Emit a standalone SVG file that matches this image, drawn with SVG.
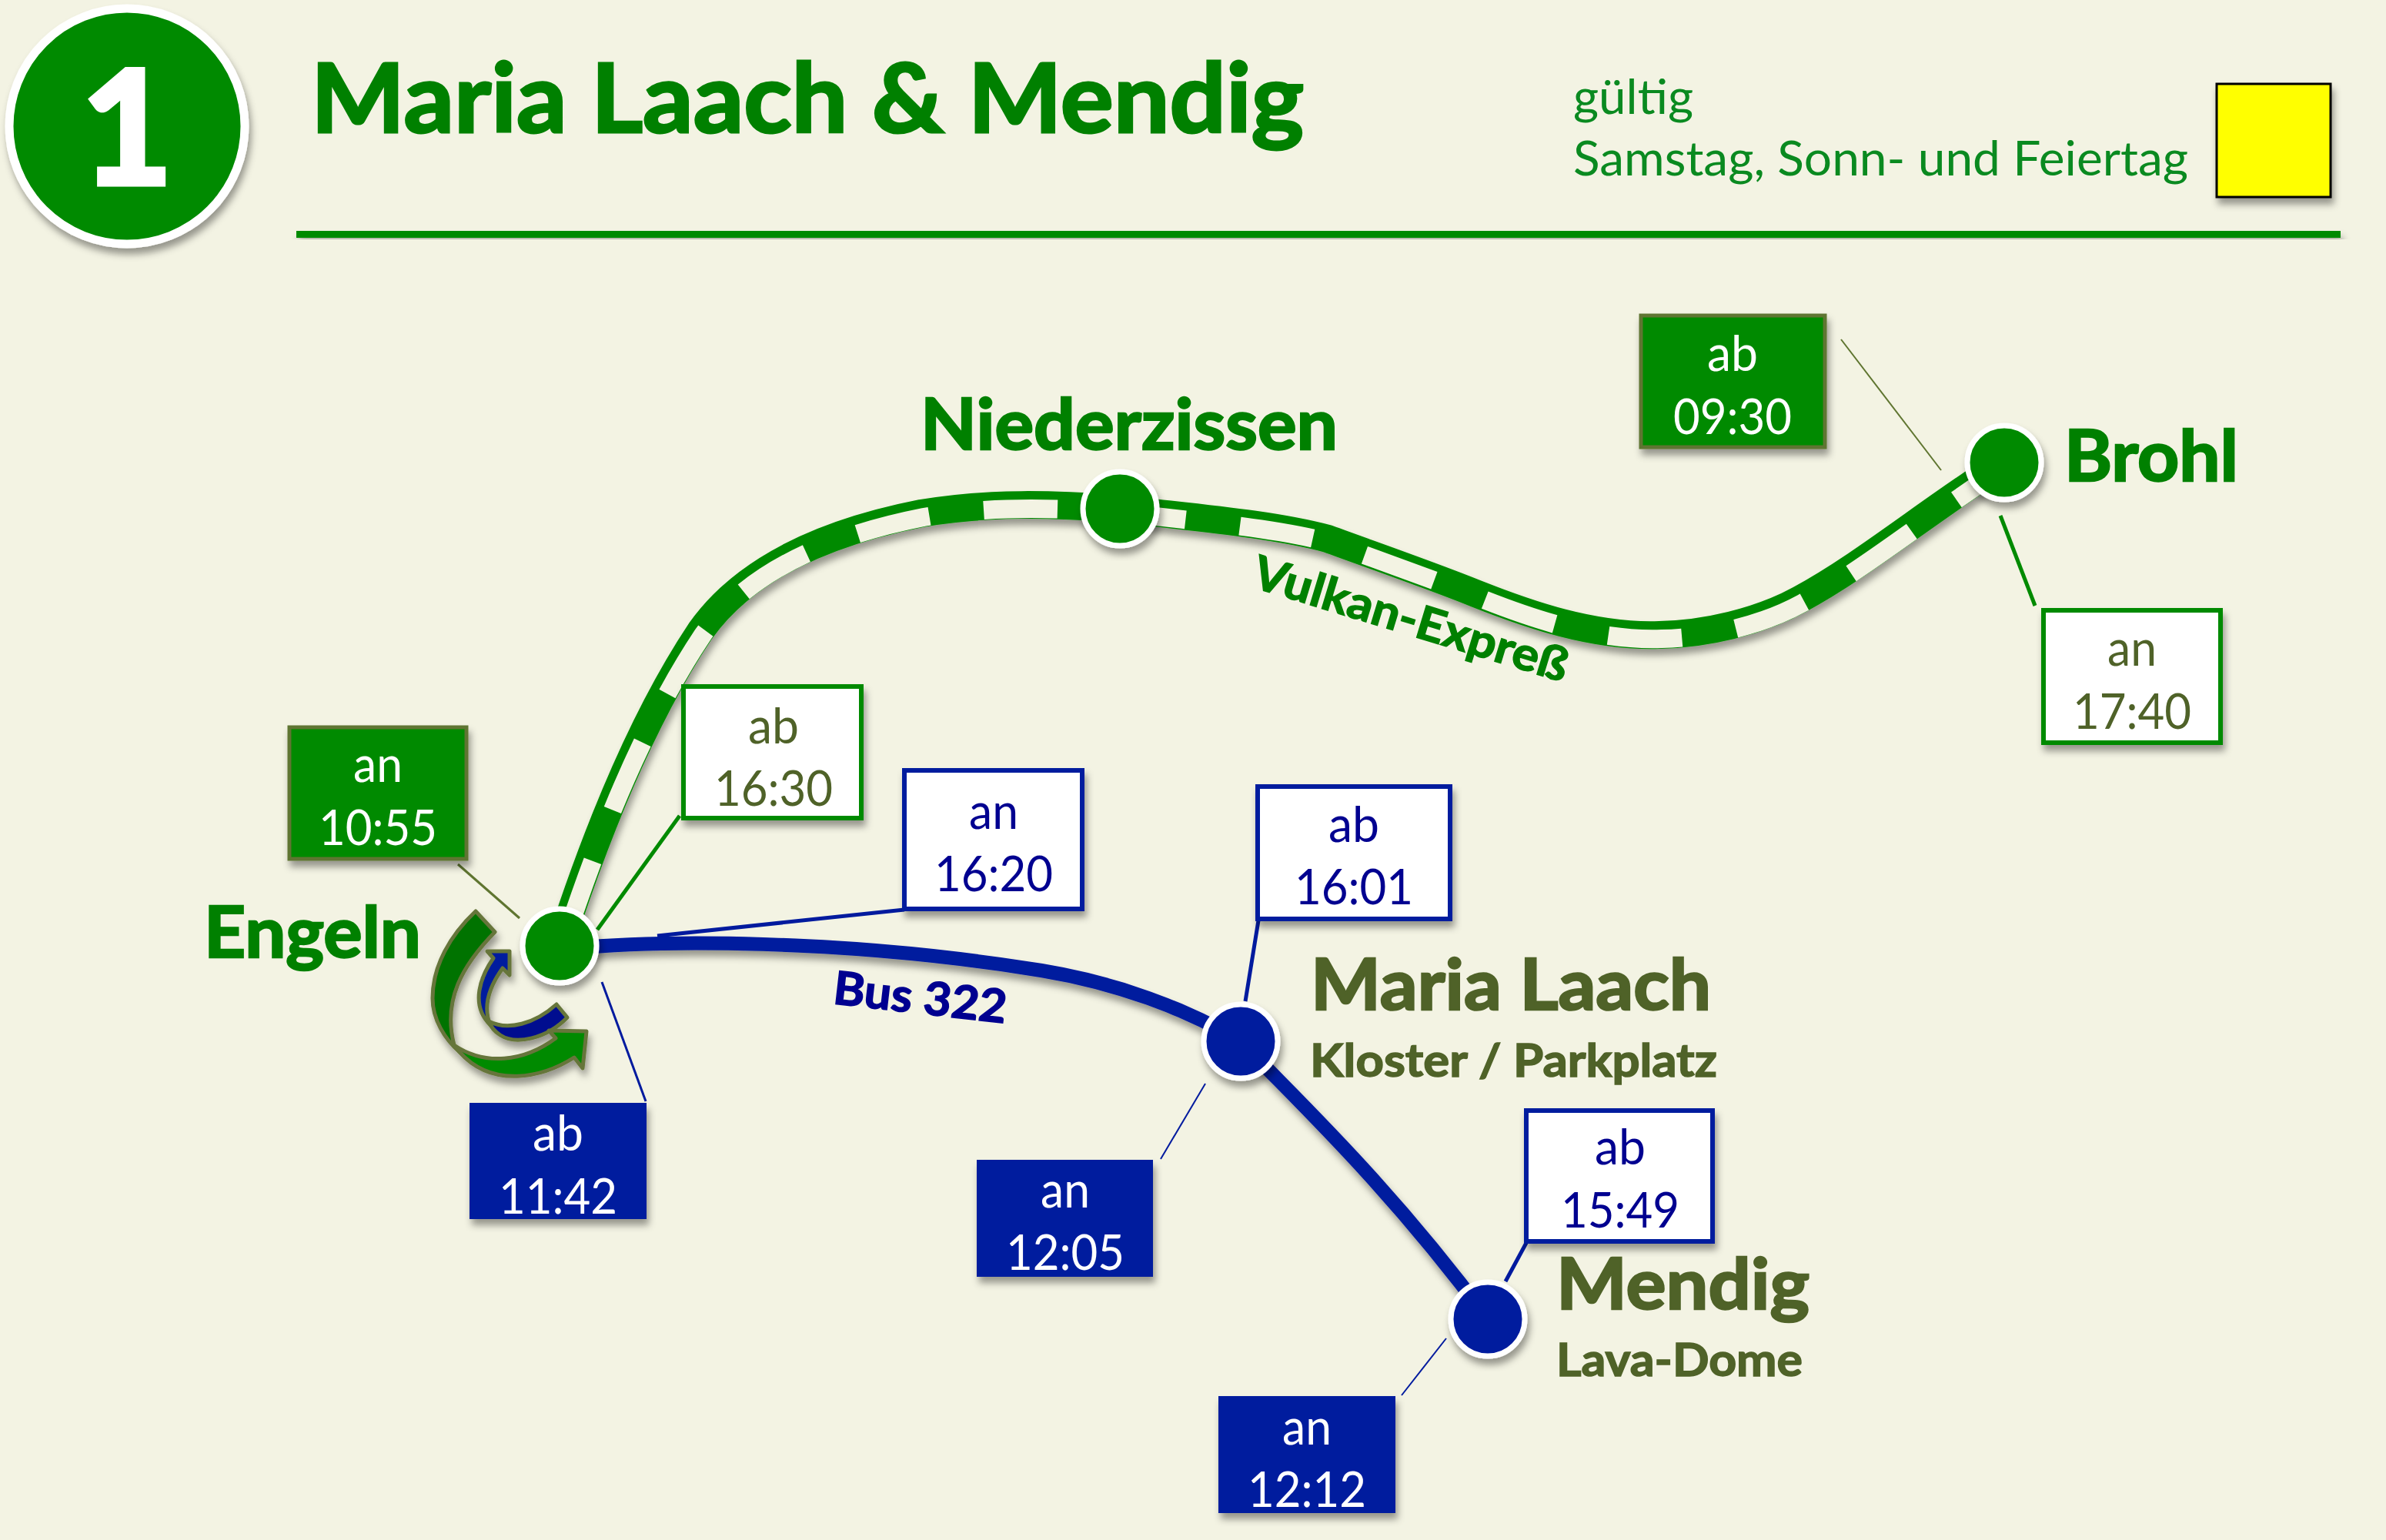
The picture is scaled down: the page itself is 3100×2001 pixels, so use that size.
<svg xmlns="http://www.w3.org/2000/svg" width="3100" height="2001" viewBox="0 0 3100 2001">
<style>
text{font-family:Lato,"Open Sans","Liberation Sans",sans-serif}
.g{fill:#008a00}.b{fill:#001a9e}
.sh{filter:url(#ds)}
.st{font-weight:700;font-size:92px;stroke-width:2.5}
.sub{font-weight:700;font-size:59px;fill:#4f6228;stroke:#4f6228;stroke-width:1.5}
.sg{fill:#008000;stroke:#008000}
.ol{fill:#4f6228}
.so{fill:#4f6228;stroke:#4f6228}
.t{font-size:64px;text-anchor:middle}
.w{fill:#fff}.db{fill:#000090}
.gf{fill:#008a00;stroke:#5f7530;stroke-width:5}
.bf{fill:#001a9e;stroke:#001a9e;stroke-width:2}
.gw{fill:#fff;stroke:#008a00;stroke-width:6}
.bw{fill:#fff;stroke:#001a9e;stroke-width:6}
.node{stroke:#fff;stroke-width:7}
.sw{stroke:#66753a;stroke-width:5;stroke-linejoin:round}
</style>
<defs>
<filter id="ds" x="-20%" y="-20%" width="140%" height="140%"><feDropShadow dx="3" dy="8" stdDeviation="5" flood-color="#000" flood-opacity="0.38"/></filter>
</defs>
<rect width="3100" height="2001" fill="#f3f3e3"/>

<g id="header">
<circle class="g sh" cx="165" cy="164" r="153" stroke="#fff" stroke-width="11"/>
<text x="165" y="239" font-size="205" font-weight="700" fill="#fff" stroke="#fff" stroke-width="7" text-anchor="middle">1</text>
<text x="404" y="172" font-size="124" font-weight="700" fill="#008000" stroke="#008000" stroke-width="3" textLength="1290" lengthAdjust="spacingAndGlyphs">Maria Laach &amp; Mendig</text>
<rect class="g sh" x="385" y="300" width="2656" height="9"/>
<text x="2044" y="148" font-size="62" fill="#0a8a20" textLength="156" lengthAdjust="spacingAndGlyphs">gültig</text>
<text x="2044" y="228" font-size="62" fill="#0a8a20" textLength="799" lengthAdjust="spacingAndGlyphs">Samstag, Sonn- und Feiertag</text>
<rect class="sh" x="2880" y="109" width="148" height="147" fill="#ffff00" stroke="#000" stroke-width="3"/>
</g>

<g id="connectors" fill="none">
<g class="sh">
<path id="rail" d="M727 1229C780 1065 840 925 910 820C970 735 1080 690 1197 667C1285 652 1370 655 1455 661C1545 672 1650 680 1725 700C1785 722 1860 748 1917 771C1985 798 2070 828 2156 825C2215 824 2285 808 2338 779C2420 735 2510 660 2604 601" stroke="#008a00" stroke-width="36"/>
</g>
<path transform="translate(3,5)" d="M727 1229C780 1065 840 925 910 820C970 735 1080 690 1197 667C1285 652 1370 655 1455 661C1545 672 1650 680 1725 700C1785 722 1860 748 1917 771C1985 798 2070 828 2156 825C2215 824 2285 808 2338 779C2420 735 2510 660 2604 601" stroke="#f3f3e3" stroke-width="24" stroke-dasharray="96 71" stroke-dashoffset="-26"/>
<path class="sh" id="bus" d="M727 1234C850 1220 1100 1220 1353 1261C1450 1277 1540 1310 1612 1353C1680 1425 1800 1535 1933 1714" stroke="#001a9e" stroke-width="18"/>
<g stroke-linecap="butt">
<line x1="595" y1="1123" x2="675" y2="1193" stroke="#5f7530" stroke-width="3"/>
<line x1="782" y1="1276" x2="839" y2="1431" stroke="#001a9e" stroke-width="3"/>
<line x1="883" y1="1060" x2="776" y2="1208" stroke="#008a00" stroke-width="5"/>
<line x1="854" y1="1216" x2="1175" y2="1182" stroke="#001a9e" stroke-width="5"/>
<line x1="2392" y1="441" x2="2522" y2="611" stroke="#5f7530" stroke-width="2"/>
<line x1="2599" y1="670" x2="2644" y2="787" stroke="#008a00" stroke-width="5"/>
<line x1="1635" y1="1196" x2="1618" y2="1301" stroke="#001a9e" stroke-width="5"/>
<line x1="1508" y1="1506" x2="1566" y2="1408" stroke="#001a9e" stroke-width="2"/>
<line x1="1983" y1="1615" x2="1956" y2="1665" stroke="#001a9e" stroke-width="5"/>
<line x1="1821" y1="1813" x2="1879" y2="1739" stroke="#001a9e" stroke-width="2"/>
</g>
</g>

<g id="turnaround" class="sh">
<path class="sw" fill="#007300" d="M618 1184L643 1211C600 1255 575 1300 590 1358L597 1367C578 1350 562 1325 562 1297C562 1255 585 1215 618 1184Z"/>
<path class="sw" fill="#000f8f" d="M635 1327C660 1340 695 1330 723 1305L737 1322C710 1350 670 1358 650 1345C642 1340 638 1335 635 1327Z"/>
<path class="sw" fill="#001a9e" d="M662 1236L633 1236L641 1245C625 1268 610 1305 637 1332C630 1315 630 1290 653 1258L662 1267Z"/>
<path class="sw" fill="#008a00" d="M590 1358C630 1385 680 1380 722 1349L713 1339L762 1340L757 1388L746 1374C705 1400 640 1415 597 1367Z"/>
</g>

<g id="node-engeln">
<circle class="g node sh" cx="727" cy="1229" r="48"/>
<text class="st sg" x="265" y="1244" textLength="282" lengthAdjust="spacingAndGlyphs">Engeln</text>
</g>
<g id="node-niederzissen">
<circle class="g node sh" cx="1455" cy="661" r="48"/>
<text class="st sg" x="1196" y="584" textLength="542" lengthAdjust="spacingAndGlyphs">Niederzissen</text>
</g>
<g id="node-brohl">
<circle class="g node sh" cx="2604" cy="601" r="48"/>
<text class="st sg" x="2682" y="625" textLength="226" lengthAdjust="spacingAndGlyphs">Brohl</text>
</g>
<g id="node-maria-laach">
<circle class="b node sh" cx="1612" cy="1353" r="48"/>
<text class="st so" x="1703" y="1312" textLength="520" lengthAdjust="spacingAndGlyphs">Maria Laach</text>
<text class="sub" x="1702" y="1399" textLength="529" lengthAdjust="spacingAndGlyphs">Kloster / Parkplatz</text>
</g>
<g id="node-mendig">
<circle class="b node sh" cx="1933" cy="1714" r="48"/>
<text class="st so" x="2022" y="1701" textLength="329" lengthAdjust="spacingAndGlyphs">Mendig</text>
<text class="sub" x="2022" y="1788" textLength="320" lengthAdjust="spacingAndGlyphs">Lava-Dome</text>
</g>

<text id="label-vulkan" transform="translate(1624,762) rotate(17)" font-size="60" font-weight="700" fill="#008000" stroke="#008000" stroke-width="1.5" textLength="425" lengthAdjust="spacingAndGlyphs">Vulkan-Expreß</text>
<text id="label-bus" transform="translate(1081,1304) rotate(6.5)" font-size="60" font-weight="700" fill="#000090" stroke="#000090" stroke-width="1.5" textLength="226" lengthAdjust="spacingAndGlyphs">Bus 322</text>

<g id="box-engeln-an"><rect class="gf sh" x="376" y="945" width="230" height="171"/><text class="t w" x="491" y="1016" textLength="64" lengthAdjust="spacingAndGlyphs">an</text><text class="t w" x="491" y="1098" textLength="154" lengthAdjust="spacingAndGlyphs">10:55</text></g>
<g id="box-engeln-ab"><rect class="bf sh" x="611" y="1434" width="228" height="149"/><text class="t w" x="725" y="1495" textLength="66" lengthAdjust="spacingAndGlyphs">ab</text><text class="t w" x="725" y="1577" textLength="154" lengthAdjust="spacingAndGlyphs">11:42</text></g>
<g id="box-niederzissen-ab"><rect class="gw sh" x="888" y="892" width="231" height="171"/><text class="t ol" x="1005" y="966" textLength="66" lengthAdjust="spacingAndGlyphs">ab</text><text class="t ol" x="1005" y="1047" textLength="154" lengthAdjust="spacingAndGlyphs">16:30</text></g>
<g id="box-bus-an"><rect class="bw sh" x="1175" y="1001" width="231" height="180"/><text class="t db" x="1291" y="1077" textLength="64" lengthAdjust="spacingAndGlyphs">an</text><text class="t db" x="1291" y="1158" textLength="154" lengthAdjust="spacingAndGlyphs">16:20</text></g>
<g id="box-brohl-ab"><rect class="gf sh" x="2132" y="410" width="239" height="171"/><text class="t w" x="2251" y="482" textLength="66" lengthAdjust="spacingAndGlyphs">ab</text><text class="t w" x="2251" y="564" textLength="154" lengthAdjust="spacingAndGlyphs">09:30</text></g>
<g id="box-brohl-an"><rect class="gw sh" x="2655" y="793" width="230" height="172"/><text class="t ol" x="2770" y="865" textLength="64" lengthAdjust="spacingAndGlyphs">an</text><text class="t ol" x="2770" y="947" textLength="154" lengthAdjust="spacingAndGlyphs">17:40</text></g>
<g id="box-laach-ab"><rect class="bw sh" x="1634" y="1022" width="250" height="172"/><text class="t db" x="1759" y="1094" textLength="66" lengthAdjust="spacingAndGlyphs">ab</text><text class="t db" x="1759" y="1175" textLength="154" lengthAdjust="spacingAndGlyphs">16:01</text></g>
<g id="box-laach-an"><rect class="bf sh" x="1270" y="1508" width="227" height="150"/><text class="t w" x="1384" y="1569" textLength="64" lengthAdjust="spacingAndGlyphs">an</text><text class="t w" x="1384" y="1650" textLength="154" lengthAdjust="spacingAndGlyphs">12:05</text></g>
<g id="box-mendig-ab"><rect class="bw sh" x="1983" y="1443" width="242" height="170"/><text class="t db" x="2105" y="1513" textLength="66" lengthAdjust="spacingAndGlyphs">ab</text><text class="t db" x="2105" y="1595" textLength="154" lengthAdjust="spacingAndGlyphs">15:49</text></g>
<g id="box-mendig-an"><rect class="bf sh" x="1584" y="1815" width="228" height="150"/><text class="t w" x="1698" y="1877" textLength="64" lengthAdjust="spacingAndGlyphs">an</text><text class="t w" x="1698" y="1958" textLength="154" lengthAdjust="spacingAndGlyphs">12:12</text></g>
</svg>
